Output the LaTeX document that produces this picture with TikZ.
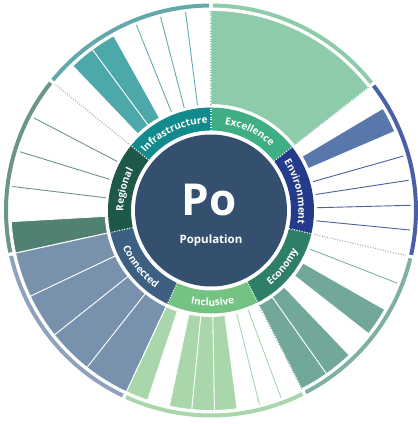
\documentclass[tikz,border=0pt]{standalone}
\usepackage{fontspec}
\setsansfont{Open Sans}
\usetikzlibrary{decorations.text}

% colours of the seven themes
\definecolor{corecol}{HTML}{34506E}
\definecolor{infraring}{HTML}{138A8C}
\definecolor{infrafill}{HTML}{4DA8AA}
\definecolor{infraline}{HTML}{62A9AD}
\definecolor{excelring}{HTML}{40AE85}
\definecolor{excelfill}{HTML}{8ECBAB}
\definecolor{envring}{HTML}{233B8A}
\definecolor{envfill}{HTML}{5877AA}
\definecolor{envline}{HTML}{4A60A6}
\definecolor{econring}{HTML}{2F7F68}
\definecolor{econfill}{HTML}{72A89A}
\definecolor{econline}{HTML}{80B0A3}
\definecolor{inclring}{HTML}{75C383}
\definecolor{inclfill}{HTML}{A9D7AB}
\definecolor{connring}{HTML}{3D6082}
\definecolor{connfill}{HTML}{7892AE}
\definecolor{connline}{HTML}{8DA3BD}
\definecolor{regring}{HTML}{1D5848}
\definecolor{regfill}{HTML}{508173}
\definecolor{regline}{HTML}{6B958A}

% annular sector: start angle, end angle, inner radius, outer radius, style
\newcommand{\drawsector}[5]{%
  \filldraw[#5] (#1:#3) arc[start angle=#1, end angle=#2, radius=#3]
    -- (#2:#4) arc[start angle=#2, end angle=#1, radius=#4] -- cycle;}
\newcommand{\ringfont}{\sffamily\bfseries\fontsize{10}{12}\selectfont\color{white}}

\tikzset{
  ringseg/.style={fill=#1, draw=none},
  wedge/.style={fill=#1, draw=white, line width=0.8pt},
  divider/.style={draw=#1, line width=0.9pt},
  rim/.style={draw=#1, line width=4pt},
  catline/.style={draw=#1, line width=1.1pt, dash pattern=on 1pt off 1.6pt},
  cwlabel/.style={decorate, decoration={text along path, text align=center,
    text={|\ringfont|#1}}},
}

\begin{document}
\begin{tikzpicture}[x=1pt, y=1pt]
    \useasboundingbox (-211,-213.5) rectangle (207,210.5);

    % outer rims
    \draw[rim=excelfill] (38.5:205) arc[start angle=38.5, end angle=89.5, radius=205];
    \draw[rim=infraline] (90.5:205) arc[start angle=90.5, end angle=140.5, radius=205];
    \draw[rim=regline] (141.5:205) arc[start angle=141.5, end angle=191.8, radius=205];
    \draw[rim=connline] (192.8:205) arc[start angle=192.8, end angle=244.5, radius=205];
    \draw[rim=inclfill] (245.5:205) arc[start angle=245.5, end angle=296.5, radius=205];
    \draw[rim=econline] (297.5:205) arc[start angle=297.5, end angle=346.5, radius=205];
    \draw[rim=envline] (-12.5:205) arc[start angle=-12.5, end angle=37.5, radius=205];

    % Excellence wedge
    \drawsector{38}{90}{106}{200}{wedge=excelfill}

    % Infrastructure wedges
    \foreach \a in {97.3,104.6,111.9} \draw[divider=infraline] (\a:106) -- (\a:200);
    \drawsector{119.1}{126.4}{106}{200}{wedge=infrafill}
    \drawsector{126.4}{133.7}{106}{200}{wedge=infrafill}

    % Regional wedges
    \foreach \a in {152.4,162.9,173.1} \draw[divider=regline] (\a:106) -- (\a:200);
    \drawsector{183.2}{192.3}{106}{200}{wedge=regfill}

    % Connected wedges
    \foreach \a/\b in {192.3/205.4,205.4/218.5,218.5/231.7,231.7/245}
        {\drawsector{\a}{\b}{106}{200}{wedge=connfill}}

    % Inclusive wedges
    \foreach \a/\b in {245/251.5,258/264.5,264.5/271,271/277.5}
        {\drawsector{\a}{\b}{106}{200}{wedge=inclfill}}
    \foreach \a in {284,290.5} \draw[divider=inclfill] (\a:106) -- (\a:200);

    % Economy wedges
    \foreach \a/\b in {297/305.3,305.3/313.7,322/330.3}
        {\drawsector{\a}{\b}{106}{200}{wedge=econfill}}
    \draw[divider=econline] (338.7:106) -- (338.7:200);

    % Environment wedges
    \foreach \a in {-5.6,1.5,8.7,15.8} \draw[divider=envline] (\a:106) -- (\a:200);
    \drawsector{23.3}{30.7}{106}{200}{wedge=envfill}

    % theme borders in the wedges
    \draw[catline=gray!70] (141:106) -- (141:200);
    \draw[catline=excelfill] (90:106) -- (90:200);
    \draw[catline=excelfill] (38:106) -- (38:200);
    \draw[catline=gray!70] (-13:106) -- (-13:200);
    \draw[catline=econfill] (-63:106) -- (-63:200);
    \draw[catline=white] (245:106) -- (245:200);
    \draw[catline=white] (192.3:106) -- (192.3:200);

    % theme ring
    \drawsector{90}{141}{80}{103}{ringseg=infraring}
    \drawsector{38}{90}{80}{103}{ringseg=excelring}
    \drawsector{-13}{38}{80}{103}{ringseg=envring}
    \drawsector{-63}{-13}{80}{103}{ringseg=econring}
    \drawsector{245}{297}{80}{103}{ringseg=inclring}
    \drawsector{192.3}{245}{80}{103}{ringseg=connring}
    \drawsector{141}{192.3}{80}{103}{ringseg=regring}
    \foreach \a in {90,141,192.3,245,297,347,38} \draw[catline=white] (\a:80) -- (\a:103);

    % ring labels
    \path[cwlabel=Infrastructure] (140.5:87.5) arc[start angle=140.5, end angle=90.5, radius=87.5];
    \path[cwlabel=Excellence] (89:87.5) arc[start angle=89, end angle=39, radius=87.5];
    \path[cwlabel=Environment] (37:87.5) arc[start angle=37, end angle=-12, radius=87.5];
    \path[cwlabel=Regional] (191:87.5) arc[start angle=191, end angle=142, radius=87.5];
    \path[cwlabel=Economy] (-62:95.5) arc[start angle=-62, end angle=-14, radius=95.5];
    \path[cwlabel=Inclusive] (246:95.5) arc[start angle=246, end angle=296, radius=95.5];
    \path[cwlabel=Connected] (193:95.5) arc[start angle=193, end angle=244, radius=95.5];

    % core
    \fill[corecol] (0,0) circle[radius=76];
    \node[text=white, font=\sffamily\bfseries\fontsize{44}{46}\selectfont] (po) at (-2,10) {Po};
    \node[text=white, font=\sffamily\bfseries\fontsize{11.5}{13}\selectfont] (poplabel) at (0,-30) {Population};
\end{tikzpicture}
\end{document}
